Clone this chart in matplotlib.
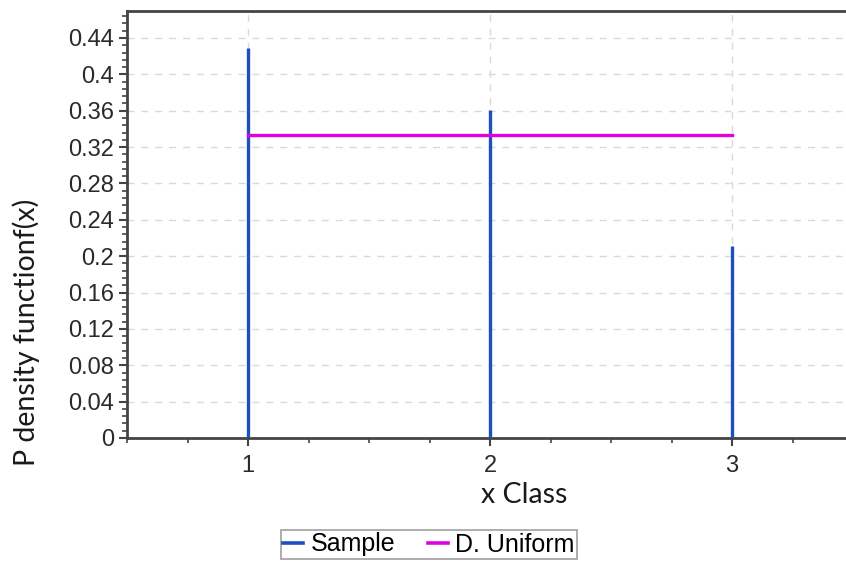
import matplotlib
matplotlib.use("Agg")
import matplotlib.pyplot as plt
from matplotlib.ticker import MultipleLocator, FuncFormatter
from matplotlib.lines import Line2D

classes = [1, 2, 3]
sample = [0.429, 0.361, 0.211]
uniform = [0.3333, 0.3333, 0.3333]
yticks = [0, 0.04, 0.08, 0.12, 0.16, 0.2, 0.24, 0.28, 0.32, 0.36, 0.4, 0.44]

blue = "#1f4fbf"
magenta = "#e000e0"
tickfont = "Liberation Sans"
labelfont = "Lato"

fig = plt.figure(figsize=(8.46, 5.65), dpi=100)
ax = fig.add_axes([127/846, 1-438/565, 1-127/846, (438-11)/565])

ax.vlines(classes, 0, sample, color=blue, lw=2.4, zorder=3)
ax.plot(classes, uniform, color=magenta, lw=2.4, zorder=4)

ax.set_xlim(0.5, 0.5 + (846-127)/242)
ax.set_ylim(0, 0.4697)
ax.set_yticks(yticks)
ax.yaxis.set_minor_locator(MultipleLocator(0.008))
ax.set_xticks(classes)
ax.xaxis.set_minor_locator(MultipleLocator(0.25))
ax.yaxis.set_major_formatter(FuncFormatter(lambda v, p: ("%g" % round(v, 2))))

ax.grid(True, which="major", color="#d9d9d9", ls=(0, (5, 5)), lw=1.0)
ax.set_axisbelow(True)

for s in ["left", "bottom", "top"]:
    ax.spines[s].set_color("#444444")
    ax.spines[s].set_linewidth(2)
ax.spines["right"].set_visible(False)

ax.tick_params(axis="both", which="major", direction="out", length=6, width=1.5,
               color="#444444", labelsize=17, labelcolor="#2a2a2a")
ax.tick_params(axis="both", which="minor", direction="out", length=3.5, width=1.2,
               color="#444444")
ax.tick_params(axis="x", which="major", pad=6)
for lab in ax.get_xticklabels() + ax.get_yticklabels():
    lab.set_fontfamily(tickfont)

fig.text(26/846, 1-332/565, "P density functionf(x)", rotation=90, ha="center", va="center",
         fontsize=20.5, family=labelfont, color="#1a1a1a")
fig.text(524/846, 1-495/565, "x Class", ha="center", va="center",
         fontsize=20.5, family=labelfont, color="#1a1a1a")

handles = [Line2D([], [], color=blue, lw=2.6), Line2D([], [], color=magenta, lw=2.6)]
leg = fig.legend(handles, ["Sample", "D. Uniform"], loc="upper center",
                 bbox_to_anchor=(429/846, 1-530/565), ncol=2, frameon=True,
                 fancybox=False, edgecolor="#888888", handlelength=0.8,
                 handletextpad=0.3, columnspacing=1.3, borderpad=0.1,
                 borderaxespad=0.0,
                 prop={"family": tickfont, "size": 18})
leg.get_frame().set_linewidth(1.2)

fig.savefig("out.png", dpi=100)
